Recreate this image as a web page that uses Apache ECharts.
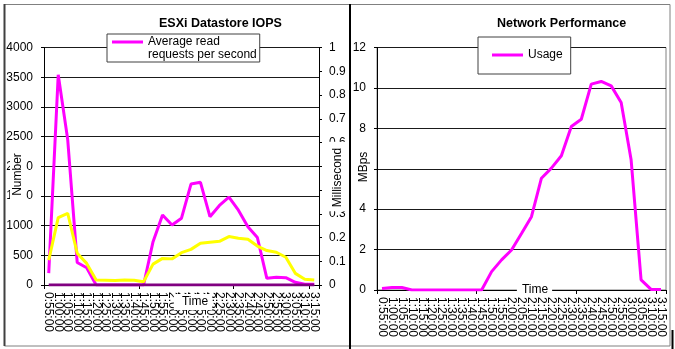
<!DOCTYPE html>
<html>
<head>
<meta charset="utf-8">
<script src="https://cdn.jsdelivr.net/npm/echarts@6/dist/echarts.min.js"></script>
<style>html,body{margin:0;padding:0;background:#fff}#c{width:675px;height:349px}</style>
</head>
<body>
<div id="c"></div>
<script>
// ---- data ----
const iopsTimes = ['0:55:00','1:00:00','1:05:00','1:10:00','1:15:00','1:20:00','1:25:00','1:30:00','1:35:00','1:40:00','1:45:00','1:50:00','1:55:00','2:00:00','2:05:00','2:10:00','2:15:00','2:20:00','2:25:00','2:30:00','2:35:00','2:40:00','2:45:00','2:50:00','2:55:00','3:00:00','3:05:00','3:10:00','3:15:00'];
const readRequests = [200,3540,2450,380,290,0,0,0,0,0,0,730,1180,1010,1125,1700,1730,1150,1340,1480,1260,980,800,113,130,123,45,12,12];
const readLatencyMs = [0.105,0.284,0.302,0.134,0.091,0.021,0.02,0.019,0.021,0.02,0.014,0.088,0.112,0.11,0.136,0.15,0.176,0.18,0.184,0.204,0.197,0.193,0.164,0.145,0.138,0.117,0.049,0.024,0.021];
const writeRequests = [0,0,0,0,0,0,0,0,0,0,0,0,0,0,0,0,0,0,0,0,0,0,0,0,0,0,0,0,0];
const netTimes = ['0:55:00','1:00:00','1:05:00','1:10:00','1:15:00','1:20:00','1:25:00','1:30:00','1:35:00','1:40:00','1:45:00','1:50:00','1:55:00','2:00:00','2:05:00','2:10:00','2:15:00','2:20:00','2:25:00','2:30:00','2:35:00','2:40:00','2:45:00','2:50:00','2:55:00','3:00:00','3:05:00','3:10:00','3:15:00'];
const networkUsage = [0.08,0.12,0.12,0,0,0,0,0,0,0,0,0.91,1.49,1.98,2.8,3.63,5.53,6.03,6.64,8.09,8.45,10.19,10.32,10.1,9.28,6.44,0.5,0.03,0.03];

// ---- chart ----
const FONT = '"Liberation Sans", Arial, Helvetica, sans-serif';
const chart = echarts.init(document.getElementById('c'), null, {renderer: 'canvas'});

function xAxisCfg(gridIndex, labels) {
  return {
    type: 'category', gridIndex: gridIndex, data: labels, boundaryGap: true,
    axisLine: {show: true, onZero: false, lineStyle: {color: '#000', width: 1}},
    axisTick: {show: true, interval: 9, length: 4, lineStyle: {color: '#000'}},
    axisLabel: {interval: 0, rotate: -90, margin: 7, fontFamily: FONT, fontSize: 12, color: '#000'},
    splitLine: {show: false}
  };
}
const yLabel = {fontFamily: FONT, fontSize: 12, color: '#000', formatter: v => String(v)};
const txt = (t, x, y, rot, pad) => ({
  type: 'text', x: x, y: y, rotation: rot, z: 100, silent: true,
  style: {text: t, fontFamily: FONT, fontSize: 12, fill: '#000',
    align: 'center', verticalAlign: 'middle', textAlign: 'center', textVerticalAlign: 'middle',
    backgroundColor: '#fff', padding: pad}
});

const option = {
  animation: false,
  backgroundColor: '#fff',
  title: [
    {text: 'ESXi Datastore IOPS', left: 159, top: 17, padding: 0,
     textStyle: {fontFamily: FONT, fontSize: 12.5, fontWeight: 'bold', color: '#000'}},
    {text: 'Network Performance', left: 497, top: 17, padding: 0,
     textStyle: {fontFamily: FONT, fontSize: 12.5, fontWeight: 'bold', color: '#000'}}
  ],
  legend: [
    {data: ['Average read requests per second'], left: 107, top: 34, padding: [1, 3, 1, 5],
     selectedMode: false, borderColor: '#404040', borderWidth: 1, backgroundColor: '#fff',
     itemWidth: 31, itemHeight: 26,
     icon: 'path://M0,0H0.1V0.1H0Z M0,5.5H31V8.5H0Z M0,25.9H0.1V26H0Z',
     itemStyle: {borderWidth: 0},
     formatter: () => 'Average read\nrequests per second',
     textStyle: {fontFamily: FONT, fontSize: 12, color: '#000', lineHeight: 13}},
    {data: ['Usage'], left: 478, top: 37, padding: [12, 8, 13, 14],
     selectedMode: false, borderColor: '#404040', borderWidth: 1, backgroundColor: '#fff',
     itemWidth: 31, itemHeight: 3, icon: 'rect', itemStyle: {borderWidth: 0},
     textStyle: {fontFamily: FONT, fontSize: 12, color: '#000'}}
  ],
  grid: [
    {left: 44, right: 356, top: 47.5, bottom: 64, show: false},
    {left: 377, right: 9, top: 47.5, bottom: 59, show: true, borderColor: '#808080', borderWidth: 1, backgroundColor: 'transparent'}
  ],
  xAxis: [xAxisCfg(0, iopsTimes), xAxisCfg(1, netTimes)],
  yAxis: [
    {type: 'value', gridIndex: 0, position: 'left', min: 0, max: 4000, interval: 500,
     axisLine: {show: true, lineStyle: {color: '#000'}},
     axisTick: {show: true, length: 3, lineStyle: {color: '#000'}},
     axisLabel: Object.assign({margin: 11}, yLabel),
     splitLine: {show: true, lineStyle: {color: '#1a1a1a', width: 1}}},
    {type: 'value', gridIndex: 0, position: 'right', min: 0, max: 1, interval: 0.1,
     axisLine: {show: true, lineStyle: {color: '#000'}},
     axisTick: {show: true, length: 3, lineStyle: {color: '#000'}},
     axisLabel: Object.assign({margin: 10}, yLabel),
     splitLine: {show: false}},
    {type: 'value', gridIndex: 1, position: 'left', min: 0, max: 12, interval: 2,
     axisLine: {show: true, lineStyle: {color: '#000'}},
     axisTick: {show: true, length: 3, lineStyle: {color: '#000'}},
     axisLabel: Object.assign({margin: 11}, yLabel),
     splitLine: {show: true, lineStyle: {color: '#1a1a1a', width: 1}}}
  ],
  series: [
    {name: 'Average read requests per second', type: 'line', xAxisIndex: 0, yAxisIndex: 0,
     data: readRequests, symbol: 'none', z: 3,
     lineStyle: {color: '#FF00FF', width: 3}, itemStyle: {color: '#FF00FF'}},
    {name: 'Average read latency', type: 'line', xAxisIndex: 0, yAxisIndex: 1,
     data: readLatencyMs, symbol: 'none', z: 4,
     lineStyle: {color: '#FFFF00', width: 3}, itemStyle: {color: '#FFFF00'}},
    {name: 'Average write requests per second', type: 'line', xAxisIndex: 0, yAxisIndex: 0,
     data: writeRequests, symbol: 'none', z: 5,
     lineStyle: {color: '#800080', width: 3}, itemStyle: {color: '#800080'}},
    {name: 'Usage', type: 'line', xAxisIndex: 1, yAxisIndex: 2,
     data: networkUsage, symbol: 'none', z: 3,
     lineStyle: {color: '#FF00FF', width: 3}, itemStyle: {color: '#FF00FF'}}
  ],
  graphic: [
    {type: 'rect', silent: true, z: 0, shape: {x: 4.5, y: 4.5, width: 345, height: 341.5},
     style: {fill: null, stroke: '#808080', lineWidth: 1}},
    {type: 'line', silent: true, z: 0, shape: {x1: 4.5, y1: 4, x2: 4.5, y2: 346},
     style: {stroke: '#404040', lineWidth: 2}},
    {type: 'rect', silent: true, z: 0, shape: {x: 350, y: 4.5, width: 320, height: 341.5},
     style: {fill: null, stroke: '#808080', lineWidth: 1}},
    {type: 'line', silent: true, z: 0, shape: {x1: 350, y1: 4, x2: 350, y2: 349},
     style: {stroke: '#000', lineWidth: 2}},
    {type: 'line', silent: true, z: 0, shape: {x1: 672.5, y1: 330, x2: 672.5, y2: 349},
     style: {stroke: '#000', lineWidth: 2}},
    txt('Number', 18, 176, Math.PI / 2, [3, 5, 1, 8]),
    txt('Millisecond', 338, 176.5, Math.PI / 2, [5, 6, 3, 4]),
    txt('MBps', 363.5, 167, Math.PI / 2, [3, 3, 0, 3]),
    txt('Time', 193, 302, 0, [2, 4, 2, 8]),
    txt('Time', 534.5, 290, 0, [1, 4, 1, 5])
  ]
};
chart.setOption(option);
</script>
</body>
</html>
